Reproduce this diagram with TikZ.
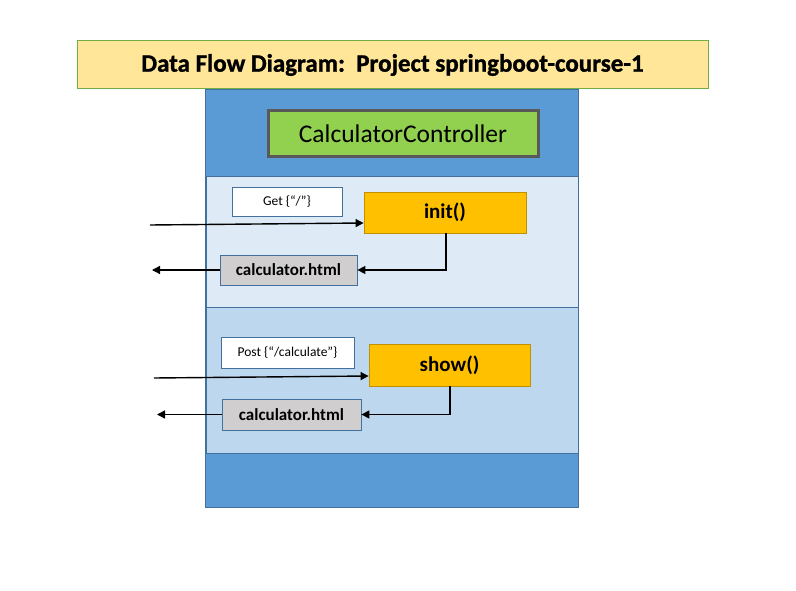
\documentclass[tikz,border=0pt]{standalone}
\usepackage{fontspec}
\setmainfont{Carlito}
\newfontface\titlefont[FakeBold=1.2]{Carlito Bold}
\usetikzlibrary{arrows.meta}
\definecolor{titlefill}{HTML}{FFE699}
\definecolor{titleline}{HTML}{70AD47}
\definecolor{mainblue}{HTML}{5B9BD5}
\definecolor{blueline}{HTML}{41719C}
\definecolor{panelone}{HTML}{DEEBF7}
\definecolor{paneltwo}{HTML}{BDD7EE}
\definecolor{ctrlfill}{HTML}{92D050}
\definecolor{ctrlline}{HTML}{595959}
\definecolor{methfill}{HTML}{FFC000}
\definecolor{methline}{HTML}{BF9000}
\definecolor{viewfill}{HTML}{D0CECE}
\tikzset{
  titlebox/.style={draw=titleline, line width=1pt, fill=titlefill, inner sep=0pt, font=\fontsize{25}{30}\titlefont},
  ctrlbox/.style={draw=ctrlline, line width=3pt, fill=ctrlfill, inner sep=0pt, font=\fontsize{25.5}{30}\selectfont},
  methbox/.style={draw=methline, line width=0.8pt, fill=methfill, inner sep=0pt, font=\fontsize{21}{25}\selectfont\bfseries},
  viewbox/.style={draw=blueline, line width=0.8pt, fill=viewfill, inner sep=0pt, font=\fontsize{17}{20}\selectfont\bfseries},
  mapbox/.style={draw=blueline, line width=0.8pt, fill=white, inner sep=0pt, font=\fontsize{13.5}{16}\selectfont},
  flow/.style={draw=black, line width=1.4pt, -{Triangle[length=8pt,width=8pt]}},
}
\begin{document}
\begin{tikzpicture}[x=1pt,y=-1pt]
\useasboundingbox (0,0) rectangle (796,591);
% main container
\filldraw[fill=mainblue, draw=blueline, line width=0.8pt] (205,89) rectangle (578,507);
\filldraw[fill=panelone, draw=blueline, line width=0.8pt] (206,176) rectangle (578,307);
\filldraw[fill=paneltwo, draw=blueline, line width=0.8pt] (206,307) rectangle (578,453);
% title
\node[titlebox, minimum width=631pt, minimum height=48pt] (title) at (392.5,65) {Data Flow Diagram:\ \ Project springboot-course-1};
% controller
\node[ctrlbox, minimum width=270pt, minimum height=46pt] (ctrl) at (403,134) {CalculatorController};
% panel 1
\node[mapbox, minimum width=110pt, minimum height=29pt] (get) at (287,201.5) {Get \{“/”\}};
\node[methbox, minimum width=162pt, minimum height=41pt] (init) at (445,212.5) {init()};
\node[viewbox, minimum width=137pt, minimum height=30pt] (calcA) at (288.5,270) {calculator.html};
\coordinate (inA) at (150,225);
\coordinate (outA) at (152,270);
\draw[flow] (inA) -- ([yshift=-10.5pt]init.west);
\draw[flow] ([xshift=1pt]init.south) |- (calcA.east);
\draw[flow] (calcA.west) -- (outA);
% panel 2
\node[mapbox, minimum width=133pt, minimum height=31pt] (post) at (287.5,352.5) {Post \{“/calculate”\}};
\node[methbox, minimum width=161pt, minimum height=42pt] (show) at (449.5,365) {show()};
\node[viewbox, minimum width=139pt, minimum height=31pt] (calcB) at (291.5,414.5) {calculator.html};
\coordinate (inB) at (154,378);
\coordinate (outB) at (157,414.5);
\draw[flow] (inB) -- ([yshift=-11pt]show.west);
\draw[flow] ([xshift=0.5pt]show.south) |- (calcB.east);
\draw[flow] (calcB.west) -- (outB);
\end{tikzpicture}
\end{document}
